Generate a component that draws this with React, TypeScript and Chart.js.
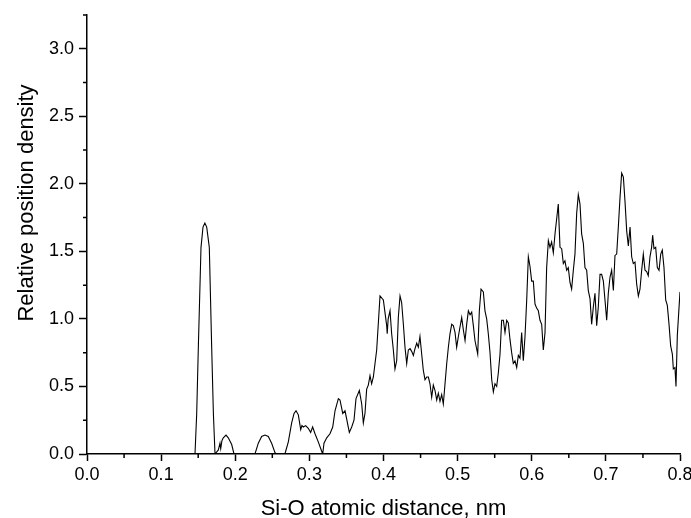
import { useEffect, useRef } from "react";
import { Chart, registerables } from "chart.js";

Chart.register(...registerables);

// Si-O atomic distance, nm
const distance = [
  0, 0.1457, 0.148, 0.1502, 0.1538, 0.1565, 0.159, 0.1615, 0.165, 0.1682, 0.1705, 0.1727,
  0.1772, 0.1794, 0.1804, 0.1821, 0.1839, 0.1875, 0.1906, 0.1952, 0.1983,
  0.2266, 0.2311, 0.2356, 0.2401, 0.2446, 0.2491, 0.2536, 0.256,
  0.267, 0.2716, 0.2761, 0.2793, 0.282, 0.2851, 0.2883, 0.29, 0.2918, 0.295, 0.2985, 0.3017, 0.3044, 0.3076, 0.312, 0.3166, 0.318,
  0.3197, 0.3234, 0.3278, 0.3315, 0.3346, 0.3391, 0.3413, 0.345, 0.3481, 0.3539, 0.3571, 0.3602, 0.3629, 0.3674, 0.3706, 0.3728,
  0.375, 0.3773, 0.3795, 0.3818, 0.384, 0.3863, 0.3908, 0.3953, 0.3998, 0.4043, 0.405, 0.4063, 0.4088,
  0.411, 0.4133, 0.4155, 0.4178, 0.42, 0.4223, 0.4245, 0.4268, 0.429, 0.4313, 0.4335, 0.4358, 0.438, 0.4403, 0.4425, 0.4448,
  0.447, 0.4492, 0.4515, 0.4537, 0.456, 0.4583, 0.4605, 0.4627, 0.465, 0.4672, 0.4695, 0.4718, 0.474, 0.4762, 0.4785, 0.4807,
  0.483, 0.4853, 0.4875, 0.4897, 0.492, 0.4942, 0.4965, 0.4987, 0.501, 0.5032, 0.5055, 0.5077, 0.51, 0.5122, 0.5145, 0.5168,
  0.519, 0.5212, 0.5234, 0.5271, 0.5293, 0.5316, 0.5347, 0.5369, 0.5392, 0.5414, 0.5437, 0.546, 0.5482, 0.5504, 0.5527, 0.5549,
  0.5572, 0.5594, 0.5617, 0.5639, 0.5662, 0.5684, 0.5706, 0.5729, 0.5751, 0.5774, 0.5797, 0.5819, 0.5841, 0.5864, 0.5886, 0.5909,
  0.5932, 0.5954, 0.5976, 0.5999, 0.6021, 0.6044, 0.6066, 0.6089, 0.6111, 0.6134, 0.6156, 0.6179, 0.6201, 0.6224, 0.6246, 0.6268,
  0.6291, 0.6314, 0.6336, 0.6358, 0.6381, 0.6404, 0.6426, 0.6448, 0.6471, 0.6493, 0.6516, 0.6538, 0.6561, 0.6583, 0.6606, 0.6628,
  0.6651, 0.6673, 0.6696, 0.6718, 0.6741, 0.6763, 0.6786, 0.6808, 0.6831, 0.6853, 0.6876, 0.6898, 0.6921, 0.6943, 0.6966, 0.6988,
  0.7011, 0.7033, 0.7056, 0.7078, 0.7101, 0.7123, 0.7146, 0.7168, 0.7191, 0.7213, 0.7236, 0.7258, 0.7281, 0.7303, 0.7326, 0.7348,
  0.737, 0.7393, 0.7415, 0.7438, 0.746, 0.7483, 0.7505, 0.7528, 0.755, 0.7572, 0.7595, 0.7617, 0.7631, 0.7649, 0.7672, 0.7694,
  0.7717, 0.774, 0.7761, 0.7784, 0.7807, 0.7829, 0.7852, 0.7874, 0.7897, 0.791, 0.7932, 0.7946, 0.7964, 0.8,
];

// Relative position density
const density = [
  0, 0, 0.3, 0.79, 1.53, 1.68, 1.71, 1.68, 1.53, 0.79, 0.3, 0,
  0.03, 0.08, 0.04, 0.1, 0.12, 0.14, 0.12, 0.07, 0,
  0, 0.08, 0.13, 0.14, 0.13, 0.08, 0.01, 0,
  0, 0.09, 0.23, 0.3, 0.32, 0.29, 0.18, 0.21, 0.2, 0.21, 0.19, 0.16, 0.2, 0.15, 0.09, 0.02, 0,
  0.08, 0.12, 0.15, 0.2, 0.32, 0.41, 0.4, 0.3, 0.32, 0.16, 0.2, 0.25, 0.41, 0.47, 0.37, 0.23,
  0.3, 0.48, 0.51, 0.58, 0.52, 0.57, 0.77, 1.17, 1.14, 0.95, 0.89, 1.0, 1.06,
  0.89, 0.77, 0.63, 0.69, 1.01, 1.17, 1.12, 0.96, 0.79, 0.67, 0.77, 0.78, 0.76, 0.73, 0.78, 0.82,
  0.79, 0.87, 0.74, 0.62, 0.55, 0.57, 0.57, 0.52, 0.42, 0.51, 0.47, 0.4, 0.45, 0.39, 0.44, 0.37,
  0.52, 0.67, 0.79, 0.89, 0.96, 0.95, 0.9, 0.79, 0.87, 0.94, 1.01, 0.92, 0.84, 0.96, 1.06, 1.03,
  1.05, 0.95, 0.84, 0.74, 1.06, 1.22, 1.2, 1.06, 1.0, 0.89, 0.75, 0.55, 0.46, 0.52, 0.5, 0.6,
  0.74, 0.99, 0.99, 0.9, 0.99, 0.97, 0.85, 0.75, 0.67, 0.69, 0.64, 0.73, 0.71, 0.9, 0.69, 0.87,
  1.14, 1.46, 1.39, 1.28, 1.28, 1.11, 1.08, 1.06, 0.99, 0.96, 0.77, 0.9, 1.38, 1.58, 1.53, 1.57,
  1.49, 1.63, 1.74, 1.85, 1.53, 1.52, 1.41, 1.43, 1.36, 1.38, 1.27, 1.22, 1.36, 1.48, 1.78, 1.92,
  1.85, 1.63, 1.56, 1.38, 1.36, 1.21, 1.15, 0.96, 1.09, 1.19, 0.95, 1.09, 1.33, 1.33, 1.28, 1.14,
  0.99, 1.19, 1.31, 1.36, 1.21, 1.47, 1.48, 1.68, 1.9, 2.08, 2.05, 1.87, 1.65, 1.54, 1.68, 1.46,
  1.41, 1.42, 1.26, 1.17, 1.22, 1.36, 1.48, 1.36, 1.35, 1.32, 1.46, 1.53, 1.62, 1.52, 1.53, 1.38,
  1.36, 1.48, 1.51, 1.38, 1.14, 1.1, 0.96, 0.8, 0.74, 0.63, 0.64, 0.5, 0.88, 1.2,
];

const xMinorTicks = [0.05, 0.15, 0.25, 0.35, 0.45, 0.55, 0.65, 0.75];
const yMinorTicks = [0.25, 0.75, 1.25, 1.75, 2.25, 2.75, 3.25];

const xTitle = "Si-O atomic distance, nm";
const yTitle = "Relative position density";

const FONT = '"Liberation Sans", Arial, sans-serif';

const extrasPlugin = {
  id: "extras",
  afterDraw(chart: any) {
    const { ctx, chartArea, scales } = chart;
    const xs = scales.x;
    const ys = scales.y;
    ctx.save();
    ctx.strokeStyle = "#000";
    ctx.lineWidth = 1.5;
    ctx.beginPath();
    for (const v of xMinorTicks) {
      const px = xs.getPixelForValue(v);
      ctx.moveTo(px, chartArea.bottom);
      ctx.lineTo(px, chartArea.bottom + 4);
    }
    for (const v of yMinorTicks) {
      const py = ys.getPixelForValue(v);
      ctx.moveTo(chartArea.left - 4, py);
      ctx.lineTo(chartArea.left, py);
    }
    ctx.stroke();

    ctx.fillStyle = "#000";
    ctx.font = `22px ${FONT}`;
    ctx.textAlign = "center";
    ctx.textBaseline = "alphabetic";
    ctx.fillText(xTitle, (chartArea.left + chartArea.right) / 2, 515);
    ctx.translate(33, 203);
    ctx.rotate(-Math.PI / 2);
    ctx.fillText(yTitle, 0, 0);
    ctx.restore();
  },
};

export default function App() {
  const ref = useRef<HTMLCanvasElement | null>(null);

  useEffect(() => {
    if (!ref.current) return;
    const points = distance.map((d, i) => ({ x: d, y: density[i] }));
    const chart = new Chart(ref.current, {
      type: "line",
      data: {
        datasets: [
          {
            data: points,
            borderColor: "#000",
            borderWidth: 1.1,
            pointRadius: 0,
            tension: 0,
            fill: false,
          },
        ],
      },
      options: {
        animation: false,
        responsive: false,
        devicePixelRatio: 1,
        layout: { padding: { top: 15, right: 11, left: 0, bottom: 0 } },
        plugins: { legend: { display: false }, tooltip: { enabled: false } },
        scales: {
          x: {
            type: "linear",
            min: 0,
            max: 0.8,
            afterFit: (s: any) => {
              s.height = 64;
              s.paddingRight = 11;
              s.paddingLeft = 0;
            },
            ticks: {
              stepSize: 0.1,
              color: "#000",
              font: { family: FONT, size: 18 },
              padding: 3,
              maxRotation: 0,
              callback: (v: any) => Number(v).toFixed(1),
            },
            grid: {
              display: true,
              drawOnChartArea: false,
              drawTicks: true,
              tickLength: 7,
              tickColor: "#000",
              tickWidth: 1.5,
            },
            border: { display: true, color: "#000", width: 1.5 },
          },
          y: {
            type: "linear",
            min: 0,
            max: 3.25,
            afterFit: (s: any) => {
              s.width = 87;
              s.paddingTop = 0;
            },
            ticks: {
              stepSize: 0.5,
              includeBounds: false,
              color: "#000",
              font: { family: FONT, size: 18 },
              padding: 5,
              callback: (v: any) => Number(v).toFixed(1),
            },
            grid: {
              display: true,
              drawOnChartArea: false,
              drawTicks: true,
              tickLength: 8,
              tickColor: "#000",
              tickWidth: 1.5,
            },
            border: { display: true, color: "#000", width: 1.5 },
          },
        },
      },
      plugins: [extrasPlugin],
    });
    return () => chart.destroy();
  }, []);

  return (
    <div style={{ position: "fixed", left: 0, top: 0, width: 691, height: 518, background: "#fff" }}>
      <canvas ref={ref} width={691} height={518} />
    </div>
  );
}
